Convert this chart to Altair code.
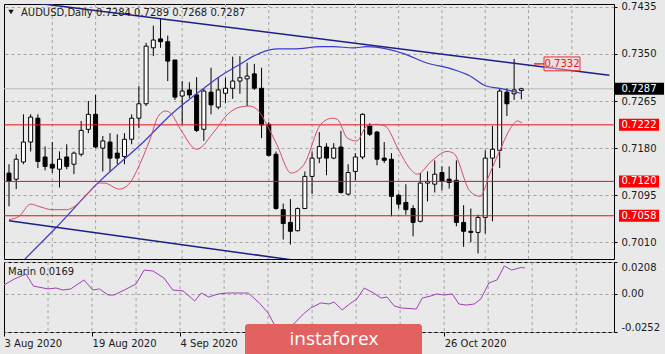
import json
import altair as alt
import pandas as pd

# ---------------- data (bar index 0 = 3 Aug 2020) ----------------
opens = [0.7135, 0.7124, 0.7155, 0.7191, 0.7234, 0.7164, 0.7151, 0.7142, 0.7164, 0.7151,
         0.7169, 0.7214, 0.7241, 0.7180, 0.7191, 0.7171, 0.7165, 0.7196, 0.7234, 0.7260,
         0.7361, 0.7377, 0.7372, 0.7339, 0.7274, 0.7285, 0.7276, 0.7214, 0.7281, 0.7254,
         0.7279, 0.7288, 0.7301, 0.7305, 0.7314, 0.7288, 0.7223, 0.7169, 0.7069, 0.7046,
         0.7031, 0.7071, 0.7129, 0.7162, 0.7182, 0.7162, 0.7182, 0.7097, 0.7138, 0.7164,
         0.7220, 0.7209, 0.7162, 0.7160, 0.7095, 0.7082, 0.7071, 0.7048, 0.7117, 0.7115,
         0.7136, 0.7124, 0.7122, 0.7046, 0.7030, 0.7028, 0.7055, 0.7162, 0.7176, 0.7281,
         0.7278, 0.7284]
highs = [0.7151, 0.7169, 0.7241, 0.7241, 0.7241, 0.7183, 0.7191, 0.7174, 0.7187, 0.7174,
         0.7229, 0.7265, 0.7276, 0.7202, 0.7207, 0.7205, 0.7207, 0.7241, 0.7292, 0.7370,
         0.7401, 0.7413, 0.7383, 0.7339, 0.7301, 0.7299, 0.7308, 0.7288, 0.7325, 0.7307,
         0.7307, 0.7345, 0.7346, 0.7334, 0.7332, 0.7325, 0.7227, 0.7174, 0.7080, 0.7088,
         0.7073, 0.7138, 0.7174, 0.7209, 0.7189, 0.7189, 0.7211, 0.7151, 0.7171, 0.7243,
         0.7225, 0.7211, 0.7191, 0.7171, 0.7098, 0.7115, 0.7077, 0.7135, 0.7138, 0.7158,
         0.7147, 0.7147, 0.7158, 0.7077, 0.7071, 0.7060, 0.7176, 0.7220, 0.7288, 0.7288,
         0.7341, 0.7289]
lows = [0.7075, 0.7106, 0.7151, 0.7174, 0.7144, 0.7140, 0.7135, 0.7109, 0.7142, 0.7133,
        0.7165, 0.7207, 0.7180, 0.7138, 0.7138, 0.7151, 0.7151, 0.7187, 0.7216, 0.7256,
        0.7346, 0.7361, 0.7301, 0.7267, 0.7222, 0.7270, 0.7209, 0.7193, 0.7241, 0.7250,
        0.7261, 0.7269, 0.7278, 0.7256, 0.7285, 0.7198, 0.7165, 0.7069, 0.7015, 0.7006,
        0.7030, 0.7071, 0.7097, 0.7153, 0.7131, 0.7160, 0.7098, 0.7095, 0.7122, 0.7160,
        0.7202, 0.7149, 0.7153, 0.7057, 0.7071, 0.7060, 0.7021, 0.7046, 0.7084, 0.7100,
        0.7104, 0.7107, 0.7039, 0.7002, 0.7010, 0.6990, 0.7026, 0.7048, 0.7144, 0.7238,
        0.7267, 0.7268]
closes = [0.7120, 0.7160, 0.7191, 0.7236, 0.7156, 0.7147, 0.7144, 0.7160, 0.7147, 0.7171,
          0.7212, 0.7241, 0.7182, 0.7193, 0.7162, 0.7162, 0.7196, 0.7234, 0.7260, 0.7364,
          0.7375, 0.7372, 0.7337, 0.7272, 0.7283, 0.7276, 0.7212, 0.7283, 0.7258, 0.7285,
          0.7288, 0.7301, 0.7307, 0.7310, 0.7288, 0.7222, 0.7167, 0.7071, 0.7044, 0.7030,
          0.7071, 0.7129, 0.7162, 0.7183, 0.7162, 0.7180, 0.7100, 0.7136, 0.7164, 0.7241,
          0.7205, 0.7160, 0.7158, 0.7093, 0.7079, 0.7069, 0.7046, 0.7117, 0.7120, 0.7133,
          0.7120, 0.7118, 0.7046, 0.7030, 0.7028, 0.7055, 0.7162, 0.7178, 0.7283, 0.7260,
          0.7285, 0.7287]

# fast moving average (red), read at bar positions
fast_idx = [0, 1.4, 3, 4.1, 6, 8, 9.1, 10.9, 12.5, 13.2, 15.3, 16.6, 18.3, 19.6, 20.7, 21.7,
            22.4, 23.9, 26, 28.5, 30.3, 32, 33.3, 34.6, 35.7, 37.1, 39.1, 40.9, 43.2, 44.8,
            45.5, 46.9, 48.2, 49.6, 51, 52.1, 54.1, 55.5, 56.6, 58.5, 60.7, 61.6, 63.9, 65.3,
            66.6, 68.4, 69.4, 70.5, 71.1]
fast_val = [0.7051, 0.7057, 0.7079, 0.7075, 0.7069, 0.7069, 0.7075, 0.7098, 0.7117, 0.7117,
            0.7106, 0.7115, 0.7156, 0.7198, 0.7238, 0.7247, 0.7243, 0.7211, 0.7178, 0.7211,
            0.7241, 0.7254, 0.7256, 0.7247, 0.7223, 0.7187, 0.7135, 0.7151, 0.7223, 0.7234,
            0.7232, 0.7198, 0.7193, 0.7220, 0.7223, 0.7220, 0.7174, 0.7144, 0.7133, 0.7156,
            0.7174, 0.7171, 0.7102, 0.7093, 0.7133, 0.7187, 0.7214, 0.7229, 0.7225]

# slow moving average (blue)
slow_idx = [0, 2.3, 6.4, 12.3, 18.7, 22.5, 27.1, 29.3, 31.6, 33.9, 35.3, 37.1, 39.5, 43.2,
            45, 47.7, 49.6, 52.3, 54.8, 57.8, 61.3, 63.9, 66.1, 68.4, 70.9]
slow_val = [0.6950, 0.6981, 0.7035, 0.7117, 0.7192, 0.7241, 0.7289, 0.7310, 0.7328, 0.7346,
            0.7354, 0.7359, 0.7359, 0.7363, 0.7363, 0.7361, 0.7363, 0.7359, 0.7350, 0.7334,
            0.7323, 0.7310, 0.7292, 0.7287, 0.7279]

# oscillator (lower panel)
osc_idx = [0, 1.4, 3.0, 4.0, 6.0, 7.1, 8.0, 9.1, 10.9, 12.1, 13.0, 14.2, 15.0, 16.4, 18.0,
           19.1, 20.3, 21.8, 23.0, 24.4, 26.0, 26.9, 27.9, 29.2, 30.5, 31.6, 33.3, 34.8, 36.0,
           36.8, 38.2, 39.5, 40.8, 41.8, 43.2, 44.3, 45.0, 46.1, 47.3, 48.1, 49.1, 50.4, 51.4,
           52.2, 53.2, 54.1, 56.2, 57.0, 58.2, 59.0, 60.0, 61.1, 62.0, 63.0, 64.1, 65.0, 66.1,
           67.2, 68.2, 69.2, 70.5, 71.0]
osc_val = [0.0057, 0.0096, 0.0129, 0.0050, 0.0031, 0.0037, 0.0024, 0.0031, 0.0090, 0.0024,
           0.0031, -0.0009, -0.0009, 0.0024, 0.0064, 0.0155, 0.0149, 0.0103, 0.0024, 0.0018,
           -0.0048, 0.0004, -0.0022, -0.0002, 0.0004, 0.0004, 0.0004, -0.0061, -0.0127, -0.0199,
           -0.0252, -0.0199, -0.0134, -0.0094, -0.0061, -0.0068, -0.0055, -0.0107, -0.0061, -0.0035,
           0.0037, 0.0004, -0.0029, -0.0022, -0.0081, -0.0094, -0.0101, -0.0029, -0.0015, -0.0002,
           -0.0009, -0.0002, -0.0068, -0.0075, -0.0068, -0.0035, 0.0070, 0.0090, 0.0182, 0.0155,
           0.0172, 0.0169]

# trend channel lines
upper_tl_idx = [0, 83.2]
upper_tl_val = [0.74478, 0.73116]
lower_tl_idx = [0, 45]
lower_tl_val = [0.7049, 0.6968]

levels = [0.7222, 0.7120, 0.7058]
trend_price = 0.7332

# visible date labels (the ones at bars 36 and 48 sit under the logo in the source)
date_idx = [0, 12, 24, 60]
date_labels = ["3 Aug 2020", "19 Aug 2020", "4 Sep 2020", "26 Oct 2020"]
grid_idx = [6, 12, 18, 24, 30, 36, 42, 48, 54, 60, 66, 72, 78]
price_ticks = [0.7435, 0.7350, 0.7265, 0.7180, 0.7095, 0.7010]
osc_ticks = [0.0208, 0.0, -0.0252]
osc_tick_labels = ["0.0208", "0.00", "-0.0252"]

symbol = "AUDUSD,Daily"
osc_name = "Marin"

# ---------------- layout / style ----------------
W = 610
H_MAIN = 255
H_SUB = 70
FONT = "DejaVu Sans"
BG = "#e9e9e9"
GRID = "#a4a4a4"
TXT = "#1a1a1a"

xs = alt.Scale(domain=[0, 83.15], nice=False, zero=False)
ys = alt.Scale(domain=[0.6980, 0.7440], nice=False, zero=False)
os_ = alt.Scale(domain=[-0.0252, 0.0208], nice=False, zero=False)

y_axis_main = alt.Axis(orient="right", values=price_ticks, format=".4f", title=None,
                       grid=True, gridColor=GRID, gridDash=[3, 3], gridWidth=1,
                       tickSize=3, tickColor="#000", labelPadding=4, labelFont=FONT,
                       labelFontSize=10, labelColor=TXT, domain=False, labelFlush=False)
y_axis_sub = alt.Axis(orient="right", values=osc_ticks,
                      labelExpr=f"{json.dumps(osc_tick_labels)}[indexof({json.dumps(osc_ticks)}, datum.value)]",
                      title=None, grid=True, gridColor=GRID, gridDash=[3, 3], gridWidth=1,
                      tickSize=3, tickColor="#000", labelPadding=4, labelFont=FONT,
                      labelFontSize=10, labelColor=TXT, domain=False, labelFlush=True)
x_axis_sub = alt.Axis(values=date_idx,
                      labelExpr=f"{json.dumps(date_labels)}[indexof({json.dumps(date_idx)}, datum.value)]",
                      title=None, grid=False, tickSize=4, tickColor="#000", labelAlign="left",
                      labelPadding=2, labelFont=FONT, labelFontSize=10, labelColor=TXT,
                      domain=False, labelFlush=False, labelOverlap=False)

candles = pd.DataFrame({"i": list(range(len(opens))), "open": opens, "high": highs,
                        "low": lows, "close": closes})
candles["top"] = candles[["open", "close"]].max(axis=1)
candles["bot"] = candles[["open", "close"]].min(axis=1)
candles["dir"] = ["up" if c >= o else "down" for o, c in zip(opens, closes)]

X = lambda f: alt.X(f, scale=xs, axis=None)
Y = lambda f: alt.Y(f, scale=ys, axis=y_axis_main)

grid_df = pd.DataFrame({"g": grid_idx})
vgrid = alt.Chart(grid_df).mark_rule(color=GRID, strokeDash=[3, 3], strokeWidth=1).encode(x=X("g:Q"))

last_df = pd.DataFrame({"p": [closes[-1]]})
bid_line = alt.Chart(last_df).mark_rule(color="#b8b8b8", strokeWidth=1).encode(y=Y("p:Q"))

wicks = alt.Chart(candles).mark_rule(color="#000", strokeWidth=1, clip=True).encode(
    x=X("i:Q"), y=Y("low:Q"), y2="high:Q")
bodies = alt.Chart(candles).mark_bar(size=4, stroke="#000", strokeWidth=1, clip=True).encode(
    x=X("i:Q"), y=Y("top:Q"), y2="bot:Q",
    fill=alt.Fill("dir:N", scale=alt.Scale(domain=["up", "down"], range=["#ffffff", "#000000"]), legend=None))

lv_df = pd.DataFrame({"p": levels})
level_lines = alt.Chart(lv_df).mark_rule(color="#e81010", strokeWidth=1).encode(y=Y("p:Q"))

slow_df = pd.DataFrame({"i": slow_idx, "v": slow_val})
slow_line = alt.Chart(slow_df).mark_line(color="#3b3bd0", strokeWidth=1.2, clip=True,
                                          interpolate="monotone").encode(x=X("i:Q"), y=Y("v:Q"))
fast_df = pd.DataFrame({"i": fast_idx, "v": fast_val})
fast_line = alt.Chart(fast_df).mark_line(color="#d84a64", strokeWidth=1, clip=True,
                                          interpolate="monotone").encode(x=X("i:Q"), y=Y("v:Q"))

tl_df = pd.DataFrame({"i": upper_tl_idx + lower_tl_idx, "v": upper_tl_val + lower_tl_val,
                      "k": ["u", "u", "l", "l"]})
trend_lines = alt.Chart(tl_df).mark_line(color="#1e1e8a", strokeWidth=1.5, clip=True).encode(
    x=X("i:Q"), y=Y("v:Q"), detail="k:N")

tp_df = pd.DataFrame({"p": [trend_price]})
tp_box = alt.Chart(tp_df).transform_calculate(hi="datum.p + 0.00125", lo="datum.p - 0.00125").mark_rect(
    fill="#f2d6d6", fillOpacity=0.5, stroke="#e83030", strokeWidth=1).encode(
    x=alt.value(540), x2=alt.value(576), y=Y("hi:Q"), y2="lo:Q")
tp_tick = alt.Chart(tp_df).mark_rule(color="#e83030", strokeWidth=1.5).encode(
    x=alt.value(530), x2=alt.value(540), y=Y("p:Q"))
tp_text = alt.Chart(tp_df).mark_text(font=FONT, fontSize=10, color="#e02020", align="center",
                                     baseline="middle").encode(
    x=alt.value(558), y=Y("p:Q"), text=alt.Text("p:Q", format=".4f"))

lv_box = alt.Chart(lv_df).transform_calculate(hi="datum.p + 0.00108", lo="datum.p - 0.00108").mark_rect(
    color="#ff0000").encode(x=alt.value(615), x2=alt.value(655), y=Y("hi:Q"), y2="lo:Q")
lv_text = alt.Chart(lv_df).mark_text(font=FONT, fontSize=10, color="#ffffff", align="center",
                                     baseline="middle").encode(
    x=alt.value(635), y=Y("p:Q"), text=alt.Text("p:Q", format=".4f"))
last_box = alt.Chart(last_df).transform_calculate(hi="datum.p + 0.00108", lo="datum.p - 0.00108").mark_rect(
    color="#000000").encode(x=alt.value(610), x2=alt.value(660), y=Y("hi:Q"), y2="lo:Q")
last_text = alt.Chart(last_df).mark_text(font=FONT, fontSize=10, color="#ffffff", align="center",
                                         baseline="middle").encode(
    x=alt.value(635), y=Y("p:Q"), text=alt.Text("p:Q", format=".4f"))

title_df = pd.DataFrame({"t": [f"{symbol}  {opens[-1]:.4f} {highs[-1]:.4f} {lows[-1]:.4f} {closes[-1]:.4f}"]})
title_txt = alt.Chart(title_df).mark_text(font=FONT, fontSize=10, color=TXT, align="left",
                                          baseline="middle").encode(
    x=alt.value(17), y=alt.value(9), text="t:N")
title_tri = alt.Chart(title_df).mark_point(shape="triangle-down", filled=True, size=30,
                                           color="#111", opacity=1).encode(x=alt.value(7), y=alt.value(8))

top = alt.layer(vgrid, bid_line, wicks, bodies, level_lines, slow_line, fast_line, trend_lines,
                tp_box, tp_tick, tp_text, last_box, last_text, lv_box, lv_text,
                title_txt, title_tri).properties(width=W, height=H_MAIN)

# ---------------- lower panel ----------------
XS = lambda f: alt.X(f, scale=xs, axis=x_axis_sub)
vgrid2 = alt.Chart(grid_df).mark_rule(color=GRID, strokeDash=[3, 3], strokeWidth=1).encode(x=XS("g:Q"))
osc_df = pd.DataFrame({"i": osc_idx, "v": osc_val})
osc_line = alt.Chart(osc_df).mark_line(color="#a040b8", strokeWidth=1, clip=True).encode(
    x=XS("i:Q"), y=alt.Y("v:Q", scale=os_, axis=y_axis_sub))
osc_title_df = pd.DataFrame({"t": [f"{osc_name} {osc_val[-1]:.4f}"]})
osc_title = alt.Chart(osc_title_df).mark_text(font=FONT, fontSize=10, color=TXT, align="left",
                                              baseline="middle").encode(
    x=alt.value(4), y=alt.value(10), text="t:N")
logo_df = pd.DataFrame({"t": ["instaforex"]})
logo_box = alt.Chart(logo_df).mark_rect(color="#e26262", cornerRadius=3).encode(
    x=alt.value(241), x2=alt.value(418), y=alt.value(62), y2=alt.value(96))
logo_txt = alt.Chart(logo_df).mark_text(font="Open Sans", fontSize=19, color="#ffffff",
                                        align="center", baseline="middle").encode(
    x=alt.value(330), y=alt.value(77), text="t:N")

bottom = alt.layer(vgrid2, osc_line, osc_title, logo_box, logo_txt).properties(width=W, height=H_SUB)

chart = alt.vconcat(top, bottom, spacing=3, bounds="flush").properties(
    padding={"left": 3, "top": 1, "right": 0, "bottom": 0},
    background=BG,
).configure_view(stroke="#000", strokeWidth=1, fill=BG)

chart.save("out.html", embed_options={"renderer": "svg", "actions": False})
